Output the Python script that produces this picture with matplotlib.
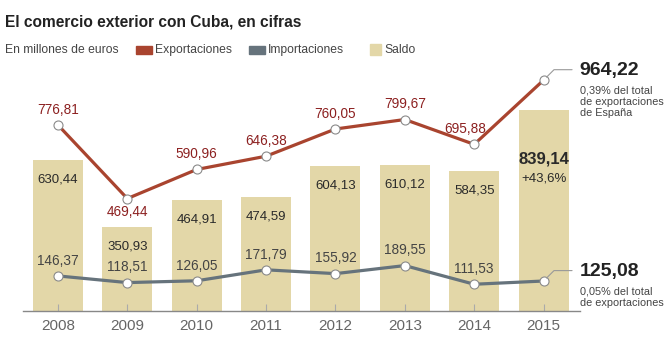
import numpy as np
import matplotlib.pyplot as plt
from matplotlib.patches import Rectangle

years = ['2008', '2009', '2010', '2011', '2012', '2013', '2014', '2015']
exportaciones = [776.81, 469.44, 590.96, 646.38, 760.05, 799.67, 695.88, 964.22]
importaciones = [146.37, 118.51, 126.05, 171.79, 155.92, 189.55, 111.53, 125.08]
saldo = [630.44, 350.93, 464.91, 474.59, 604.13, 610.12, 584.35, 839.14]

plt.rcParams['font.family'] = ['Liberation Sans', 'DejaVu Sans']

c_exp = '#a9442f'
c_exp_txt = '#8c2020'
c_imp = '#66737c'
c_bar = '#e3d7a8'
c_txt = '#2a2a2a'


def fmt(v):
    return ('%.2f' % v).replace('.', ',')


fig = plt.figure(figsize=(6.64, 3.49), dpi=100)
ax = fig.add_axes([0.035, 0.109, 0.838, 0.686])
x = np.arange(len(years))

ax.bar(x, saldo, width=0.72, color=c_bar, zorder=1)
ax.plot(x, exportaciones, color=c_exp, lw=2.3, zorder=3,
        marker='o', ms=6.5, mfc='white', mec='#8a8a8a', mew=0.8)
ax.plot(x, importaciones, color=c_imp, lw=2.3, zorder=3,
        marker='o', ms=6.5, mfc='white', mec='#8a8a8a', mew=0.8)

# etiquetas
for i in range(len(years) - 1):
    dy = -10 if i == 1 else 11
    dx = -6.5 if i == 6 else 0
    ax.annotate(fmt(exportaciones[i]), (x[i], exportaciones[i]), xytext=(dx, dy),
                textcoords='offset points', ha='center', va='center',
                color=c_exp_txt, fontsize=9.8)
    ax.annotate(fmt(importaciones[i]), (x[i], importaciones[i]), xytext=(0, 11),
                textcoords='offset points', ha='center', va='center',
                color='#444444', fontsize=9.8)
    ax.annotate(fmt(saldo[i]), (x[i], saldo[i]), xytext=(0, -14),
                textcoords='offset points', ha='center', va='center',
                color=c_txt, fontsize=9.5)

ax.annotate(fmt(saldo[7]), (x[7], saldo[7]), xytext=(0, -35),
            textcoords='offset points', ha='center', va='center',
            color=c_txt, fontsize=12, fontweight='bold')
ax.annotate('+43,6%', (x[7], saldo[7]), xytext=(0, -49),
            textcoords='offset points', ha='center', va='center',
            color=c_txt, fontsize=9.5)

# anotaciones a la derecha
for val, sub in [(exportaciones[7], '0,39% del total\nde exportaciones\nde España'),
                 (importaciones[7], '0,05% del total\nde exportaciones')]:
    ax.annotate('', xy=(x[7], val), xytext=(20.5, 7.5), textcoords='offset points',
                arrowprops=dict(arrowstyle='-', color='#999999', lw=0.8,
                                connectionstyle='angle,angleA=0,angleB=45,rad=0',
                                shrinkA=0, shrinkB=3),
                annotation_clip=False)
    ax.annotate(fmt(val), (x[7], val), xytext=(26, 7), textcoords='offset points',
                ha='left', va='center', fontsize=14, fontweight='bold',
                color='#222222', annotation_clip=False)
    ax.annotate(sub, (x[7], val), xytext=(26, -4), textcoords='offset points',
                ha='left', va='top', fontsize=7.8, color='#444444',
                linespacing=1.15, annotation_clip=False)

ax.set_xlim(-0.5, 7.52)
ax.set_ylim(0, 1000)
ax.set_xticks(x)
ax.set_xticklabels(years, fontsize=11, color='#666666')
ax.tick_params(axis='x', direction='in', length=5, color='#aaaaaa', pad=6)
ax.set_yticks([])
for s in ['top', 'right', 'left']:
    ax.spines[s].set_visible(False)
ax.spines['bottom'].set_color('#888888')
ax.spines['bottom'].set_linewidth(1)

# titulo y leyenda
fig.text(0.008, 0.937, 'El comercio exterior con Cuba, en cifras', fontsize=11.2,
         fontweight='bold', color='#222222', va='center')
fig.text(0.008, 0.857, 'En millones de euros', fontsize=8.7, color='#444444', va='center')
for x0, w, h, col, lab in [(136, 16, 8, c_exp, 'Exportaciones'),
                           (249, 16, 8, c_imp, 'Importaciones'),
                           (370, 11, 11, c_bar, 'Saldo')]:
    fig.patches.append(Rectangle((x0 / 664, 0.857 - h / 2 / 349), w / 664, h / 349,
                                 color=col, transform=fig.transFigure))
    fig.text((x0 + w + 3) / 664, 0.857, lab, fontsize=8.7, color='#444444', va='center')

fig.savefig('out.png', dpi=100)
